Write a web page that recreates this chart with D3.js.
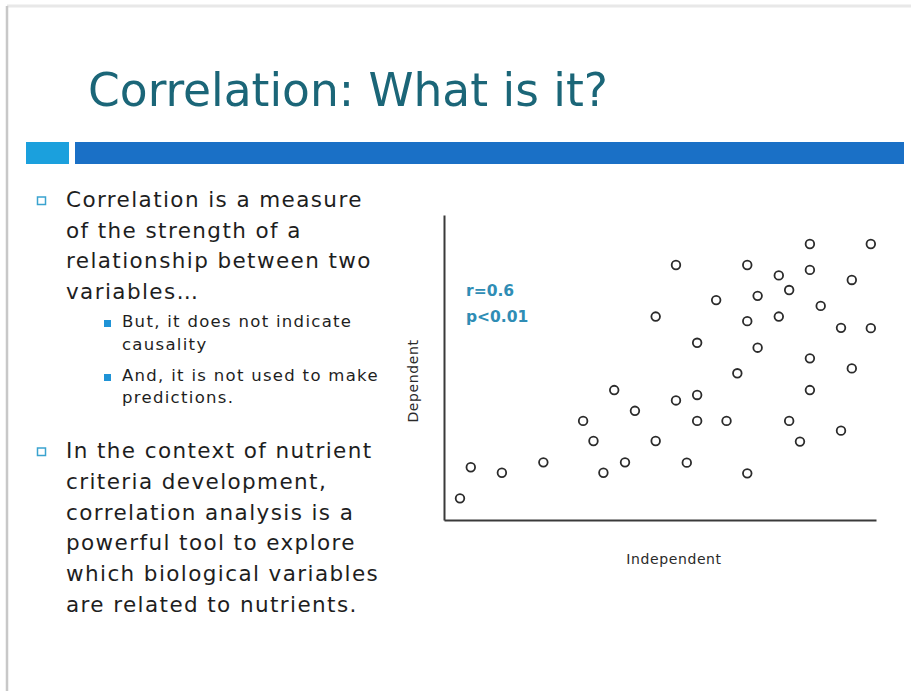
<!DOCTYPE html>
<html>
<head>
<meta charset="utf-8">
<script src="https://cdn.jsdelivr.net/npm/d3@7"></script>
<style>
  html, body { margin: 0; padding: 0; background: #ffffff; }
  svg { display: block; }
</style>
</head>
<body>
<script>
// ---- Data ----
const title = "Correlation:  What is it?";
const bullet1Lines = ["Correlation is a measure", "of the strength of a", "relationship  between two", "variables…"];
const sub1Lines = ["But, it does not indicate", "causality"];
const sub2Lines = ["And, it is not used to make", "predictions."];
const bullet2Lines = ["In the context of nutrient", "criteria development,", "correlation analysis is a", "powerful tool to explore", "which biological variables", "are related to nutrients."];
const statLines = ["r=0.6", "p<0.01"];
const xLabel = "Independent";
const yLabel = "Dependent";
// scatter values (arbitrary units, 0-100)
const xValues = [3.7, 6.2, 13.4, 23.0, 32.2, 34.6, 36.9, 39.4, 41.9, 44.2, 49.0, 49.0, 53.7, 53.7, 56.2, 58.6, 58.6, 58.6, 63.0, 65.4, 67.9, 70.2, 70.2, 70.2, 72.6, 72.6, 77.5, 77.5, 79.9, 79.9, 82.4, 84.7, 84.7, 84.7, 84.7, 87.2, 91.9, 91.9, 94.4, 94.4, 98.8, 98.8];
const yValues = [7.1, 17.3, 15.5, 18.9, 32.5, 25.9, 15.5, 42.6, 18.9, 35.8, 66.7, 25.9, 83.6, 39.2, 18.8, 58.1, 41.0, 32.5, 72.1, 32.5, 48.1, 83.6, 65.2, 15.3, 73.5, 56.5, 80.2, 66.7, 75.4, 32.5, 25.7, 90.5, 82.0, 53.0, 42.6, 70.2, 63.0, 29.3, 78.7, 49.7, 90.5, 62.9];

// ---- Layout ----
const W = 911, H = 691;
const svg = d3.select("body").append("svg").attr("width", W).attr("height", H);

// slide frame
svg.append("rect").attr("x", 0).attr("y", 0).attr("width", W).attr("height", H).attr("fill", "#ffffff");
svg.append("line").attr("x1", 7).attr("x2", W).attr("y1", 6).attr("y2", 6).attr("stroke", "#e8e8e8").attr("stroke-width", 3);
svg.append("line").attr("x1", 7).attr("x2", 7).attr("y1", 6).attr("y2", H).attr("stroke", "#c8c8c8").attr("stroke-width", 2.5);

// title
svg.append("text").attr("x", 88).attr("y", 106)
  .attr("font-family", "'DejaVu Sans Condensed', 'DejaVu Sans', sans-serif")
  .attr("font-size", 46).attr("fill", "#1b6678")
  .attr("textLength", 520).attr("lengthAdjust", "spacingAndGlyphs")
  .text(title);

// header bars
svg.append("rect").attr("x", 26).attr("y", 142).attr("width", 43).attr("height", 22).attr("fill", "#1ba0dd");
svg.append("rect").attr("x", 75).attr("y", 142).attr("width", 829).attr("height", 22).attr("fill", "#1a70c6");

// bullets
const bodyFont = "'DejaVu Sans', sans-serif";
function lines(arr, x, y0, dy, size, spacing, color) {
  svg.append("g").selectAll("text").data(arr).join("text")
    .attr("x", x).attr("y", (d, i) => y0 + i * dy)
    .attr("font-family", bodyFont).attr("font-size", size).attr("fill", color)
    .attr("letter-spacing", spacing)
    .text(d => d);
}
function hollowBox(y) {
  svg.append("rect").attr("x", 37.5).attr("y", y).attr("width", 8).attr("height", 7.5)
    .attr("fill", "none").attr("stroke", "#3aa3cf").attr("stroke-width", 1.5);
}
function filledBox(y) {
  svg.append("rect").attr("x", 104).attr("y", y).attr("width", 7).attr("height", 7).attr("fill", "#1f93d6");
}
hollowBox(197);
lines(bullet1Lines, 66, 207, 30.5, 21.5, 1.4, "#1e1e1e");
filledBox(320);
lines(sub1Lines, 122, 327, 23, 16.5, 1.3, "#1e1e1e");
filledBox(374);
lines(sub2Lines, 122, 381, 22, 16.5, 1.3, "#1e1e1e");
hollowBox(448);
lines(bullet2Lines, 66, 458, 30.8, 21.5, 1.4, "#1e1e1e");

// ---- Scatter ----
const x = d3.scaleLinear().domain([0, 100]).range([444, 876]);
const y = d3.scaleLinear().domain([0, 100]).range([520, 215]);

const gx = svg.append("g").attr("transform", `translate(0,${y(0)})`)
  .call(d3.axisBottom(x).tickValues([]).tickSizeOuter(0));
const gy = svg.append("g").attr("transform", `translate(${x(0)},0)`)
  .call(d3.axisLeft(y).tickValues([]).tickSizeOuter(0));
[gx, gy].forEach(g => g.select(".domain").attr("stroke", "#3a3a3a").attr("stroke-width", 2));

const pts = xValues.map((v, i) => ({ x: v, y: yValues[i] }));
svg.append("g").selectAll("circle").data(pts).join("circle")
  .attr("cx", d => x(d.x)).attr("cy", d => y(d.y)).attr("r", 4.3)
  .attr("fill", "none").attr("stroke", "#2b2b2b").attr("stroke-width", 1.8);

// stats
svg.append("g").selectAll("text").data(statLines).join("text")
  .attr("x", 466).attr("y", (d, i) => 296 + i * 26)
  .attr("font-family", bodyFont).attr("font-size", 15.5).attr("font-weight", "bold")
  .attr("fill", "#2f8db5").text(d => d);

// axis labels
svg.append("text").attr("x", 674).attr("y", 564).attr("text-anchor", "middle")
  .attr("font-family", bodyFont).attr("font-size", 14).attr("letter-spacing", 0.6).attr("fill", "#2a2a2a").text(xLabel);
svg.append("text").attr("transform", "translate(418,381) rotate(-90)").attr("text-anchor", "middle")
  .attr("font-family", bodyFont).attr("font-size", 14).attr("letter-spacing", 0.6).attr("fill", "#2a2a2a").text(yLabel);
</script>
</body>
</html>
